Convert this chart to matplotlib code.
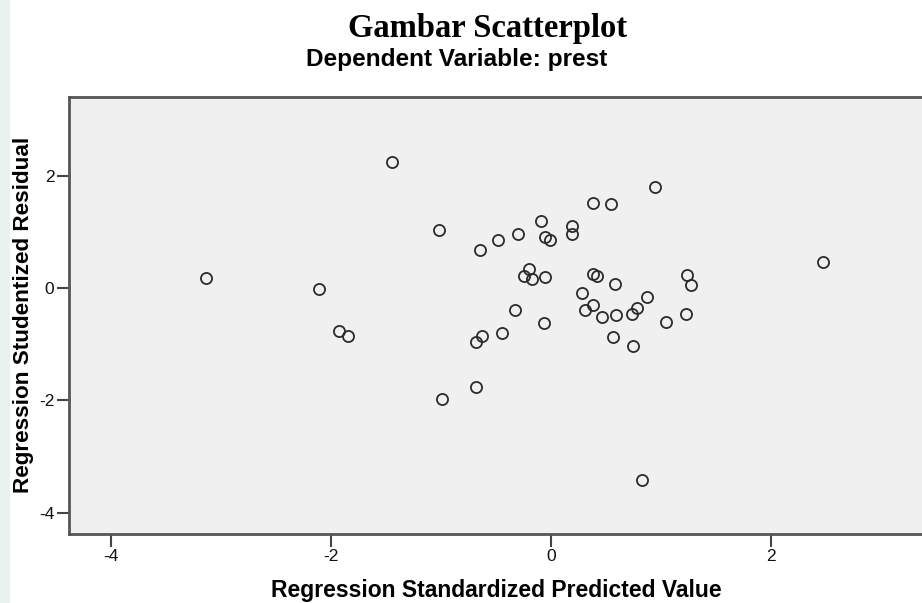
import matplotlib
matplotlib.use("Agg")
import matplotlib.pyplot as plt
from matplotlib.patches import Rectangle

# Data
pred_values = [-3.135, -2.11, -1.93, -1.84, -1.44, -1.02, -0.99, -0.685, -0.68, -0.63,
               -0.64, -0.48, -0.445, -0.30, -0.33, -0.09, -0.05, -0.006, -0.20, -0.24,
               -0.17, -0.05, -0.06, 0.195, 0.195, 0.38, 0.545, 0.38, 0.42, 0.58,
               0.28, 0.38, 0.31, 0.466, 0.59, 0.56, 0.95, 2.47, 1.235, 1.27,
               0.874, 0.78, 0.74, 1.05, 1.23, 0.75, 0.825]
stud_resid = [0.17, -0.02, -0.76, -0.85, 2.24, 1.03, -1.97, -1.77, -0.955, -0.85,
              0.68, 0.85, -0.81, 0.96, -0.40, 1.20, 0.90, 0.85, 0.33, 0.22,
              0.165, 0.195, -0.63, 1.10, 0.955, 1.51, 1.50, 0.255, 0.22, 0.077,
              -0.09, -0.30, -0.39, -0.52, -0.49, -0.87, 1.80, 0.47, 0.23, 0.053,
              -0.166, -0.36, -0.47, -0.60, -0.47, -1.04, -3.42]
x_ticks = [-4, -2, 0, 2]
y_ticks = [-4, -2, 0, 2]

W, H = 922, 603
fig = plt.figure(figsize=(W / 100, H / 100), dpi=100)
fig.patch.set_facecolor("white")

# faint watermark strip on the left edge
fig.patches.append(Rectangle((0, 0), 10 / W, 1, transform=fig.transFigure,
                             facecolor="#e7f3ec", edgecolor="none", zorder=0))

left, right_px, top_px, bottom_px = 69, 922, 97, 534
ax_w = right_px - left
ax_h = bottom_px - top_px
ax = fig.add_axes([left / W, (H - bottom_px) / H, ax_w / W, ax_h / H])
ax.set_facecolor("#f0f0f0")

ax.plot(pred_values, stud_resid, linestyle="none", marker="o", markersize=8,
        markerfacecolor="none", markeredgecolor="#2b2b2b", markeredgewidth=1.3,
        clip_on=False)

ax.set_xlim(-4.38, 3.373)
ax.set_ylim(-4.38, 3.40)
ax.set_xticks(x_ticks)
ax.set_yticks(y_ticks)
ax.set_xticklabels([str(v) for v in x_ticks], fontfamily="Liberation Sans", fontsize=12.5)
ax.set_yticklabels([str(v) for v in y_ticks], fontfamily="Liberation Sans", fontsize=12.5)
ax.tick_params(axis="both", direction="out", length=9, width=1.5, color="#444444",
               labelcolor="#111111", pad=1.5)

for side in ["left", "bottom", "top"]:
    ax.spines[side].set_color("#555555")
    ax.spines[side].set_linewidth(2)
ax.spines["right"].set_visible(False)

ax.set_xlabel("Regression Standardized Predicted Value", fontfamily="Liberation Sans",
              fontweight="bold", fontsize=16.5)
ax.set_ylabel("Regression Studentized Residual", fontfamily="Liberation Sans",
              fontweight="bold", fontsize=16.2)
ax.xaxis.set_label_coords((496 - left) / ax_w, -(590 - bottom_px) / ax_h)
ax.yaxis.set_label_coords((23 - left) / ax_w, 1 - (315 - top_px) / ax_h)
ax.xaxis.label.set_va("center")
ax.yaxis.label.set_va("center")

fig.text(488 / W, 1 - 37 / H, "Gambar Scatterplot", ha="center", va="baseline",
         fontfamily="Liberation Serif", fontweight="bold", fontsize=23.5)
fig.text(457 / W, 1 - 66 / H, "Dependent Variable: prest", ha="center", va="baseline",
         fontfamily="Liberation Sans", fontweight="bold", fontsize=17.6)

fig.savefig("out.png", dpi=100)
